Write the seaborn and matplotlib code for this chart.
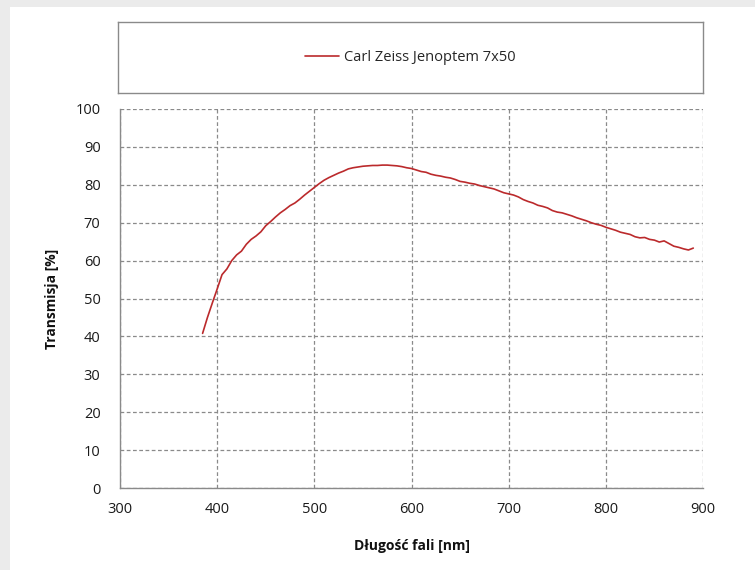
import matplotlib
matplotlib.use("Agg")
import matplotlib.pyplot as plt
import seaborn as sns
import pandas as pd
from matplotlib.patches import Rectangle
from matplotlib.lines import Line2D

wavelength_nm = list(range(385, 891, 5))
transmission = [
    40.8, 45.0, 48.8, 52.5, 56.3, 57.8, 60.0, 61.5, 62.5, 64.3,
    65.6, 66.5, 67.6, 69.2, 70.3, 71.5, 72.6, 73.5, 74.5, 75.2,
    76.2, 77.3, 78.3, 79.3, 80.3, 81.2, 81.9, 82.5, 83.1, 83.6,
    84.2, 84.5, 84.7, 84.9, 85.0, 85.1, 85.1, 85.2, 85.2, 85.1,
    85.0, 84.8, 84.5, 84.3, 83.9, 83.5, 83.3, 82.8, 82.5, 82.3,
    82.0, 81.8, 81.4, 80.9, 80.7, 80.4, 80.2, 79.8, 79.5, 79.2,
    78.9, 78.4, 77.9, 77.6, 77.3, 76.8, 76.1, 75.6, 75.2, 74.6,
    74.3, 73.9, 73.2, 72.8, 72.6, 72.2, 71.8, 71.3, 70.9, 70.5,
    70.0, 69.6, 69.3, 68.8, 68.4, 68.0, 67.5, 67.2, 66.9, 66.3,
    66.0, 66.1, 65.6, 65.4, 64.9, 65.2, 64.5, 63.8, 63.5, 63.1,
    62.8, 63.3,
]
series_name = "Carl Zeiss Jenoptem 7x50"
x_ticks = [300, 400, 500, 600, 700, 800, 900]
y_ticks = [0, 10, 20, 30, 40, 50, 60, 70, 80, 90, 100]
x_label = "Długość fali [nm]"
y_label = "Transmisja [%]"

df = pd.DataFrame({"nm": wavelength_nm, "T": transmission})

sns.set_theme(style="white")
plt.rcParams["font.family"] = ["Open Sans", "DejaVu Sans"]

W, H = 755, 570
fig = plt.figure(figsize=(W / 100, H / 100), dpi=100)
fig.patch.set_facecolor("#ebebeb")
fig.add_artist(Rectangle((10 / W, 0), 1 - 10 / W, 1 - 7 / H, transform=fig.transFigure,
                         facecolor="white", edgecolor="none", zorder=0))

line_color = "#bb2a2c"

ax = fig.add_axes([120 / W, 1 - 488 / H, (703 - 120) / W, (488 - 109) / H])
ax.set_facecolor("white")
sns.lineplot(data=df, x="nm", y="T", ax=ax, color=line_color, linewidth=1.2, legend=False)
ax.set_xlim(300, 900)
ax.set_ylim(0, 100)
ax.set_xticks(x_ticks)
ax.set_yticks(y_ticks)
ax.grid(True, linestyle=(0, (3, 2)), color="#8a8a8a", linewidth=0.9)
for s in ["top", "right"]:
    ax.spines[s].set_visible(False)
for s in ["left", "bottom"]:
    ax.spines[s].set_color("#8a8a8a")
    ax.spines[s].set_linewidth(1.0)
ax.tick_params(axis="both", length=0, labelsize=10.5, colors="#1a1a1a")
ax.tick_params(axis="y", pad=14)
ax.tick_params(axis="x", pad=10)
ax.set_xlabel(x_label, fontsize=10, fontweight="bold", labelpad=16, color="#111111")
ax.set_ylabel(y_label, fontsize=10, fontweight="bold", labelpad=12, color="#111111")

# legend box
lax = fig.add_axes([118 / W, 1 - 93 / H, (703 - 118) / W, (93 - 22) / H])
lax.set_xticks([])
lax.set_yticks([])
for s in lax.spines.values():
    s.set_color("#8a8a8a")
    s.set_linewidth(1.0)
handle = Line2D([], [], color=line_color, linewidth=1.2)
lax.legend([handle], [series_name], loc="center", frameon=False, fontsize=10.5,
           handlelength=2.3, handletextpad=0.4)

fig.savefig("out.png", dpi=100, facecolor=fig.get_facecolor())
